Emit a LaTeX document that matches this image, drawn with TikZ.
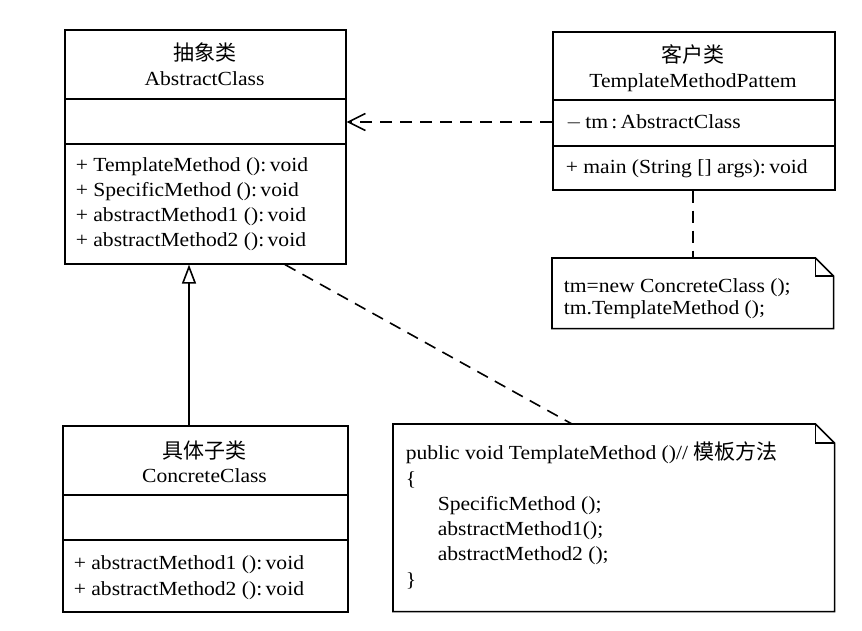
\documentclass[tikz,border=0pt]{standalone}
\usepackage{fontspec}
\setmainfont{Liberation Serif}[FakeStretch=1.08]
\newfontfamily\cjk{Noto Sans CJK SC}
\usetikzlibrary{arrows.meta,calc}
\tikzset{
  box/.style={draw, rectangle, anchor=north west, inner sep=0pt},
  notebox/.style={rectangle, anchor=north west, inner sep=0pt},
  txt/.style={inner sep=0pt, anchor=base west},
  ttl/.style={inner sep=0pt, anchor=base},
  cn/.style={font=\cjk\fontsize{21}{22}\selectfont},
  dep/.style={dashed, dash pattern=on 12pt off 8pt},
}
\begin{document}
\begin{tikzpicture}[x=1pt,y=-1pt,line width=1.6pt,font=\fontsize{20}{25}\selectfont]
\useasboundingbox (0,0) rectangle (862,631);
% Abstract class
\node[box, minimum width=281pt, minimum height=234pt] (abs) at (64,29) {};
\draw (64,99) -- (345,99) (64,144) -- (345,144);
\node[ttl,cn] (absT1) at (204.5,61) {抽象类};
\node[ttl] (absT2) at (204.5,86) {AbstractClass};
\node[txt] (absM1) at (75,172) {+ TemplateMethod ():\,void};
\node[txt] (absM2) at (75,197) {+ SpecificMethod ():\,void};
\node[txt] (absM3) at (75,222) {+ abstractMethod1 ():\,void};
\node[txt] (absM4) at (75,247) {+ abstractMethod2 ():\,void};
% Client
\node[box, minimum width=282pt, minimum height=158pt] (cli) at (552,31) {};
\draw (552,100) -- (834,100) (552,146) -- (834,146);
\node[ttl,cn] (cliT1) at (693,63) {客户类};
\node[ttl] (cliT2) at (693,88) {TemplateMethodPattem};
\node[txt] (cliA) at (565,129) {$-$\,tm\,:\,AbstractClass};
\node[txt] (cliM) at (565,174) {+ main (String [] args):\,void};
% Note 1
\node[notebox, minimum width=280pt, minimum height=69pt] (n1) at (552,258) {};
\draw (n1.north west) -- ($(n1.north east)+(-18,0)$) -- ($(n1.north east)+(0,18)$) -- (n1.south east) -- (n1.south west) -- cycle;
\draw ($(n1.north east)+(-18,0)$) -- ($(n1.north east)+(-18,18)$) -- ($(n1.north east)+(0,18)$);
\node[txt] (n1a) at (563,292) {tm=new ConcreteClass ();};
\node[txt] (n1b) at (563,314) {tm.TemplateMethod ();};
% Concrete class
\node[box, minimum width=285pt, minimum height=186pt] (con) at (62,425) {};
\draw (62,495) -- (347,495) (62,540) -- (347,540);
\node[ttl,cn] (conT1) at (204.5,458) {具体子类};
\node[ttl] (conT2) at (204.5,482) {ConcreteClass};
\node[txt] (conM1) at (73,569) {+ abstractMethod1 ():\,void};
\node[txt] (conM2) at (73,595) {+ abstractMethod2 ():\,void};
% Note 2
\node[notebox, minimum width=440pt, minimum height=186pt] (n2) at (393,424) {};
\draw (n2.north west) -- ($(n2.north east)+(-19,0)$) -- ($(n2.north east)+(0,19)$) -- (n2.south east) -- (n2.south west) -- cycle;
\draw ($(n2.north east)+(-19,0)$) -- ($(n2.north east)+(-19,19)$) -- ($(n2.north east)+(0,19)$);
\node[txt] (n2a) at (405,459) {public void TemplateMethod ()// {\cjk\fontsize{21}{22}\selectfont 模板方法}};
\node[txt] (n2b) at (405,485) {\{};
\node[txt] (n2c) at (437,510) {SpecificMethod ();};
\node[txt] (n2d) at (437,535) {abstractMethod1();};
\node[txt] (n2e) at (437,560) {abstractMethod2 ();};
\node[txt] (n2f) at (405,586) {\}};
% Connectors
\draw[-{Triangle[open,length=19pt,width=14pt]}] (con.north -| 189,0) -- (abs.south -| 189,0);
\draw[dep,-{Straight Barb[length=17pt,width=17pt]}] (cli.west |- 0,122) -- (abs.east |- 0,122);
\draw[dep] (cli.south -| 693,0) -- (n1.north -| 693,0);
\coordinate (absAnchor) at (abs.south -| 285,0);
\coordinate (n2Anchor) at (n2.north -| 572,0);
\draw[dep] (absAnchor) -- (n2Anchor);
\end{tikzpicture}
\end{document}
